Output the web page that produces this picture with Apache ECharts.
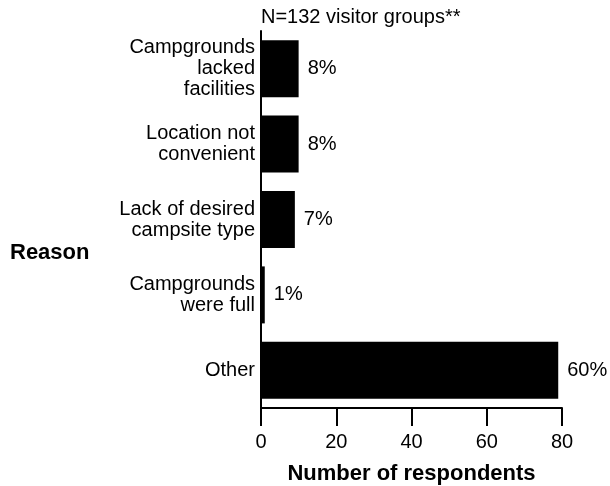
<!DOCTYPE html>
<html>
<head>
<meta charset="utf-8">
<script src="https://cdn.jsdelivr.net/npm/echarts@6/dist/echarts.min.js"></script>
<style>
  html, body { margin: 0; padding: 0; background: #fff; }
  #chart { width: 610px; height: 486px; }
</style>
</head>
<body>
<div id="chart"></div>
<script>
// categories, top to bottom
const reasons = [
  'Campgrounds\nlacked\nfacilities',
  'Location not\nconvenient',
  'Lack of desired\ncampsite type',
  'Campgrounds\nwere full',
  'Other'
]
const respondents = [10, 10, 9, 1, 79]
const percents = ['8%', '8%', '7%', '1%', '60%']
const xTicks = [0, 20, 40, 60, 80]

const font = 'Arial, "Liberation Sans", sans-serif'

const chart = echarts.init(document.getElementById('chart'))

chart.setOption({
  animation: false,
  textStyle: { fontFamily: font, color: '#000' },
  graphic: [
    {
      type: 'text',
      left: 261,
      top: 7,
      style: { text: 'N=132 visitor groups**', font: '20px ' + font, fill: '#000' }
    },
    {
      type: 'text',
      left: 10,
      top: 242,
      style: { text: 'Reason', font: 'bold 22px ' + font, fill: '#000' }
    }
  ],
  grid: {
    left: 261,
    right: 48,
    top: 31,
    bottom: 78,
    containLabel: false,
    outerBoundsMode: 'none'
  },
  xAxis: {
    type: 'value',
    min: xTicks[0],
    max: xTicks[xTicks.length - 1],
    interval: 20,
    name: 'Number of respondents',
    nameLocation: 'middle',
    nameGap: 55,
    nameTextStyle: { fontSize: 22, fontWeight: 'bold', color: '#000', fontFamily: font },
    axisLine: { show: true, lineStyle: { color: '#000', width: 2 } },
    axisTick: { show: true, length: 18, lineStyle: { color: '#000', width: 2 } },
    axisLabel: { margin: 24, fontSize: 20, color: '#000', fontFamily: font },
    splitLine: { show: false }
  },
  yAxis: {
    type: 'category',
    inverse: true,
    data: reasons,
    axisLine: { show: true, onZero: false, lineStyle: { color: '#000', width: 2 } },
    axisTick: { show: false },
    axisLabel: {
      margin: 6,
      fontSize: 20,
      lineHeight: 21,
      align: 'right',
      color: '#000',
      fontFamily: font
    }
  },
  series: [{
    type: 'bar',
    data: respondents,
    barWidth: 57,
    itemStyle: { color: '#000' },
    label: {
      show: true,
      position: 'right',
      distance: 9,
      fontSize: 20,
      color: '#000',
      fontFamily: font,
      formatter: p => percents[p.dataIndex]
    }
  }]
})
</script>
</body>
</html>
